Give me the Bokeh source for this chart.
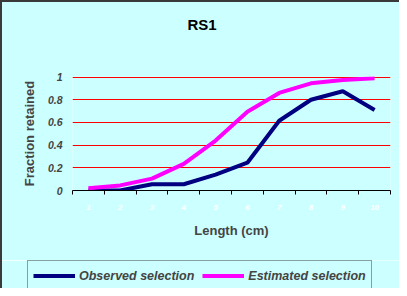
from bokeh.plotting import figure
from bokeh.layouts import column
from bokeh.models import (Range1d, FixedTicker, CustomJSTickFormatter, Legend, LegendItem,
                          Title, InlineStyleSheet)
from bokeh.embed import file_html
from bokeh.resources import INLINE

lengths = [1, 2, 3, 4, 5, 6, 7, 8, 9, 10]
observed = [0.0, 0.0, 0.055, 0.055, 0.14, 0.245, 0.615, 0.80, 0.875, 0.71]
estimated = [0.02, 0.045, 0.105, 0.235, 0.44, 0.695, 0.86, 0.945, 0.975, 0.99]
y_ticks = [0, 0.2, 0.4, 0.6, 0.8, 1]
grid_ticks = [0.2, 0.4, 0.6, 0.8, 1]
series_names = ["Observed selection", "Estimated selection"]
series_colors = ["#000080", "#FF00FF"]

BG = "#CCFFFF"
FONT = "Liberation Sans"

p = figure(width=399, height=260, output_backend="svg", toolbar_location=None,
           x_range=Range1d(0.5, 10.5), y_range=Range1d(0, 1.005),
           min_border_left=72, min_border_right=9, min_border_top=76, min_border_bottom=70)
p.frame_align = False
p.background_fill_color = BG
p.border_fill_color = BG
p.outline_line_color = None

# spacer (closest to frame) then the title above it
p.add_layout(Title(text=" ", text_font_size="2px", standoff=40), "above")
p.add_layout(Title(text="RS1", align="left", offset=115, standoff=0,
                   text_font=FONT, text_font_size="15px", text_font_style="bold",
                   text_color="black"), "above")

# x axis
p.xaxis.ticker = FixedTicker(ticks=lengths, minor_ticks=[x - 0.5 for x in lengths] + [10.5])
p.xaxis.major_tick_line_color = None
p.xaxis.major_tick_out = 0
p.xaxis.major_tick_in = 0
p.xaxis.minor_tick_out = 4
p.xaxis.minor_tick_in = 0
p.xaxis.minor_tick_line_color = "black"
p.xaxis.axis_line_color = "black"
p.xaxis.major_label_text_color = "white"
p.xaxis.major_label_text_font = FONT
p.xaxis.major_label_text_font_size = "8px"
p.xaxis.major_label_text_font_style = "bold italic"
p.xaxis.major_label_standoff = 10
p.xaxis.axis_label = "Length (cm)"
p.xaxis.axis_label_text_font = FONT
p.xaxis.axis_label_text_font_size = "13px"
p.xaxis.axis_label_text_font_style = "bold"
p.xaxis.axis_label_standoff = 10
p.xgrid.grid_line_color = None

# y axis
p.yaxis.ticker = FixedTicker(ticks=y_ticks)
p.yaxis.formatter = CustomJSTickFormatter(code="return String(Math.round(tick*10)/10);")
p.yaxis.axis_line_color = None
p.yaxis.major_tick_line_color = None
p.yaxis.minor_tick_line_color = None
p.yaxis.major_tick_out = 0
p.yaxis.major_tick_in = 0
p.yaxis.major_label_text_font = FONT
p.yaxis.major_label_text_font_size = "10.5px"
p.yaxis.major_label_text_font_style = "bold italic"
p.yaxis.major_label_standoff = 10
p.yaxis.axis_label = "Fraction retained"
p.yaxis.axis_label_text_font = FONT
p.yaxis.axis_label_text_font_size = "13px"
p.yaxis.axis_label_text_font_style = "bold"
p.yaxis.axis_label_standoff = 8
p.ygrid.ticker = FixedTicker(ticks=grid_ticks)
p.ygrid.grid_line_color = "#FF0000"
p.ygrid.grid_line_width = 1

p.line(lengths, observed, line_color=series_colors[0], line_width=4)
p.line(lengths, estimated, line_color=series_colors[1], line_width=4)

# legend strip below the chart (its own frame starts 27px from the left)
lg = figure(width=399, height=28, output_backend="svg", toolbar_location=None,
            x_range=Range1d(100, 101), y_range=Range1d(100, 101),
            x_axis_location=None, y_axis_location=None,
            min_border_left=27, min_border_right=0, min_border_top=0, min_border_bottom=0)
lg.frame_align = False
lg.background_fill_color = BG
lg.border_fill_color = BG
lg.outline_line_color = None
lg.grid.visible = False
items = []
for name, col, vals in zip(series_names, series_colors, [observed, estimated]):
    rr = lg.line(lengths, vals, line_color=col, line_width=4)
    items.append(LegendItem(label=name, renderers=[rr]))
legend = Legend(items=items, orientation="horizontal", location="top_left",
                glyph_width=42, glyph_height=19, label_height=19, label_standoff=4,
                spacing=8, padding=5, margin=0,
                label_text_font=FONT, label_text_font_size="12.5px",
                label_text_font_style="bold italic",
                border_line_color="#404040", border_line_width=1,
                background_fill_color=BG, background_fill_alpha=1)
lg.add_layout(legend, "center")

frame_css = InlineStyleSheet(css="""
:host { position: relative; }
:host::after {
  content: ""; position: absolute; left: 0; top: 0; right: 0; bottom: 0;
  border-left: 2px solid #3a3a3a; border-top: 2px solid #3a3a3a;
  pointer-events: none; z-index: 10;
}
""")
layout = column(p, lg, spacing=0, stylesheets=[frame_css])

open("out.html", "w").write(file_html(layout, INLINE))
